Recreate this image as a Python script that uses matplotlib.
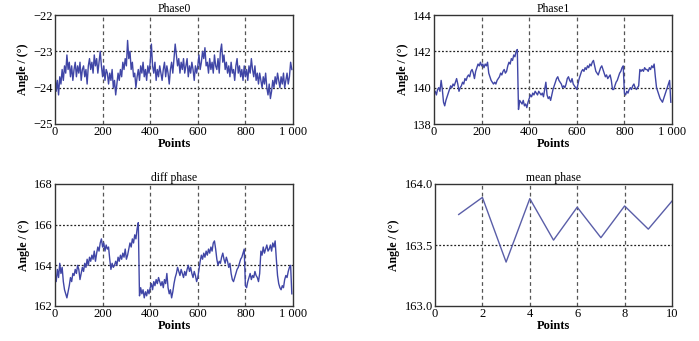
import numpy as np
import matplotlib
matplotlib.use("Agg")
import matplotlib.pyplot as plt
from matplotlib.ticker import FuncFormatter

plt.rcParams['font.family'] = ['Liberation Serif', 'DejaVu Serif']
plt.rcParams['axes.unicode_minus'] = True

points = np.arange(0, 1000, 5)

phase0 = [
    -23.6, -24.1, -23.8, -24.2, -23.7, -23.9, -23.5, -23.8, -23.4, -23.6,
    -23.1, -23.5, -23.3, -23.7, -23.4, -23.8, -23.5, -23.3, -23.7, -23.4,
    -23.6, -23.3, -23.8, -23.5, -23.4, -23.7, -23.5, -23.9, -23.4, -23.2,
    -23.5, -23.3, -23.6, -23.1, -23.4, -23.2, -23.6, -23.3, -23.0, -23.4,
    -23.7, -23.4, -23.8, -23.5, -23.6, -23.9, -23.6, -23.8, -23.5, -24.0,
    -23.8, -24.2, -23.9, -23.6, -23.8, -23.5, -23.7, -23.3, -23.5, -23.2,
    -23.4, -22.7, -23.2, -23.0, -23.5, -23.3, -23.7, -23.6, -24.0, -23.7,
    -23.5, -23.8, -23.4, -23.6, -23.3, -23.7, -23.5, -23.8, -23.4, -23.6,
    -23.3, -22.8, -23.4, -23.6, -23.3, -23.8, -23.5, -23.7, -23.4, -23.6,
    -23.8, -23.5, -23.3, -23.7, -23.4, -23.6, -23.9, -23.5, -23.3, -23.6,
    -23.2, -22.8, -23.1, -23.4, -23.2, -23.6, -23.3, -23.5, -23.2, -23.6,
    -23.4, -23.2, -23.7, -23.4, -23.6, -23.3, -23.5, -23.8, -23.4, -23.6,
    -23.4, -23.1, -23.5, -23.3, -23.0, -23.2, -22.9, -23.4, -23.3, -23.6,
    -23.2, -23.5, -23.3, -23.6, -23.1, -23.4, -23.5, -23.2, -23.6, -23.0,
    -22.8, -23.3, -23.1, -23.5, -23.3, -23.6, -23.4, -23.7, -23.3, -23.6,
    -23.5, -23.8, -23.4, -23.2, -23.6, -23.4, -23.7, -23.5, -23.8, -23.4,
    -23.7, -23.5, -23.8, -23.4, -23.6, -23.2, -23.5, -23.7, -23.4, -23.8,
    -23.6, -23.9, -23.6, -23.8, -24.0, -23.7, -23.9, -23.6, -24.0, -24.2,
    -23.9, -24.3, -24.1, -23.8, -24.0, -23.7, -23.9, -23.6, -23.8, -24.0,
    -23.7, -23.9, -23.6, -24.0, -23.8, -23.6, -23.9, -23.7, -23.3, -23.5,
]

phase1 = [
    139.7, 139.8, 139.6, 139.9, 140.0, 139.8, 140.4, 139.9, 139.2, 139.0,
    139.3, 139.5, 139.7, 139.9, 140.1, 140.0, 140.2, 140.1, 140.3, 140.5,
    140.2, 139.8, 140.0, 140.1, 140.3, 140.2, 140.5, 140.4, 140.6, 140.7,
    140.6, 140.9, 141.0, 140.8, 140.5, 140.9, 141.1, 141.3, 141.2, 141.4,
    141.2, 141.3, 141.1, 141.3, 141.2, 141.4, 140.8, 140.6, 140.4, 140.3,
    140.2, 140.3, 140.2, 140.4, 140.5, 140.6, 140.8, 140.7, 140.9, 141.0,
    140.8, 140.9, 141.2, 141.4, 141.3, 141.6, 141.5, 141.8, 141.7, 142.0,
    142.1, 138.8, 139.3, 139.2, 139.1, 139.3, 139.0, 139.1, 138.9, 139.2,
    139.4, 139.6, 139.5, 139.7, 139.6, 139.8, 139.7, 139.6, 139.8, 139.7,
    139.6, 139.7, 139.5, 139.9, 140.3, 139.6, 139.4, 139.5, 139.3, 139.6,
    139.9, 140.1, 140.3, 140.5, 140.6, 140.4, 140.3, 140.2, 140.0, 140.1,
    140.0, 140.2, 140.5, 140.6, 140.4, 140.3, 140.5, 140.2, 140.1, 140.0,
    139.9, 140.2, 140.5, 140.7, 140.9, 141.0, 140.9, 141.1, 141.0, 141.2,
    141.1, 141.3, 141.2, 141.4, 141.5, 141.2, 140.9, 140.8, 140.7, 140.9,
    141.1, 141.2, 141.0, 140.8, 140.6, 140.7, 140.5, 140.6, 140.7, 140.4,
    139.9, 139.9, 140.1, 140.3, 140.4, 140.6, 140.8, 140.9, 141.1, 141.2,
    139.7, 139.6, 139.8, 139.7, 139.9, 140.0, 139.9, 140.1, 140.2, 140.0,
    139.9, 140.0, 140.1, 141.0, 140.9, 141.0, 140.9, 141.1, 141.0, 141.0,
    140.9, 141.1, 141.0, 141.2, 141.1, 141.3, 140.6, 140.0, 139.8, 139.6,
    139.4, 139.3, 139.2, 139.4, 139.6, 139.8, 140.0, 140.2, 140.4, 139.2,
]

diff_phase = [
    163.6, 163.2, 163.8, 163.4, 164.1, 163.6, 163.9, 163.2, 162.8, 162.6,
    162.4, 162.7, 163.0, 163.4, 163.2, 163.6, 163.5, 163.8, 163.6, 164.0,
    163.8, 163.3, 163.6, 163.9, 163.7, 164.1, 163.9, 164.3, 164.0, 164.4,
    164.2, 164.5, 164.3, 164.7, 164.2, 164.6, 164.9, 164.7, 165.1, 165.3,
    164.9, 165.1, 164.7, 165.0, 164.8, 164.9, 164.3, 163.8, 164.1, 163.9,
    164.0, 164.2, 164.0, 164.4, 164.2, 164.5, 164.3, 164.6, 164.4, 164.8,
    164.3, 164.5, 164.8, 165.1, 164.9, 165.3, 165.1, 165.5, 165.3, 165.8,
    166.1, 162.5, 162.9, 162.6, 162.8, 162.4, 162.7, 162.5, 162.8, 162.6,
    162.9, 163.1, 162.8, 163.2, 163.0, 163.3, 163.1, 163.4, 163.2, 163.0,
    163.2, 162.9, 163.3, 163.1, 163.6, 162.9, 162.6, 162.8, 162.4, 162.7,
    163.1, 163.4, 163.6, 163.9, 163.7, 163.5, 163.8, 163.6, 163.4, 163.7,
    163.5, 163.8, 164.0, 163.7, 163.9, 163.6, 163.4, 163.7, 163.5, 163.2,
    163.4, 163.8, 164.2, 164.5, 164.3, 164.6, 164.4, 164.7, 164.5, 164.8,
    164.6, 164.9, 164.7, 165.1, 165.2, 164.8, 164.3, 164.0, 164.2, 164.1,
    164.4, 164.6, 164.3, 164.1, 164.4, 164.2, 163.9, 164.1, 163.6, 163.3,
    163.2, 163.4, 163.6, 163.8, 163.9, 164.1, 164.3, 164.4, 164.6, 164.8,
    163.0, 162.9, 163.2, 163.4, 163.6, 163.3, 163.5, 163.4, 163.7, 163.5,
    163.4, 163.2, 163.6, 164.7, 164.5, 164.9, 164.6, 164.8, 165.0, 164.7,
    164.8, 165.0, 164.7, 165.1, 164.9, 165.2, 164.3, 163.5, 163.1, 162.9,
    162.8, 163.0, 162.9, 163.3, 163.5, 163.4, 163.7, 163.9, 164.0, 162.6,
]

mean_x = [1, 2, 3, 4, 5, 6, 7, 8, 9, 10]
mean_phase = [163.75, 163.89, 163.36, 163.88, 163.54, 163.81, 163.56, 163.82, 163.63, 163.86]

line_color = '#4046a6'
W, H = 699, 341
fig = plt.figure(figsize=(W / 100, H / 100), dpi=100)


def rect(x0, y0, x1, y1):
    return [x0 / W, 1 - y1 / H, (x1 - x0) / W, (y1 - y0) / H]


def thousands(v, pos):
    v = int(round(v))
    if v >= 1000:
        return f"{v // 1000} {v % 1000:03d}"
    return str(v)


def style(ax, title, xt, yt, hgrid, vgrid, xfmt=None, yfmt=None):
    ax.set_title(title, fontsize=8.5, pad=2)
    ax.set_xticks(xt)
    ax.set_yticks(yt)
    if xfmt:
        ax.xaxis.set_major_formatter(FuncFormatter(xfmt))
    if yfmt:
        ax.yaxis.set_major_formatter(FuncFormatter(yfmt))
    ax.tick_params(length=0, labelsize=9, pad=1.5)
    for s in ax.spines.values():
        s.set_color('#333333')
        s.set_linewidth(1.0)
    for h in hgrid:
        ax.axhline(h, color='#222222', lw=0.9, ls=(0, (1.5, 1.5)), zorder=1)
    for v in vgrid:
        ax.axvline(v, color='#555555', lw=0.9, ls=(0, (3, 2.5)), zorder=1)
    ax.set_xlabel('Points', fontsize=9, fontweight='bold', labelpad=0)
    ax.set_ylabel('Angle / (°)', fontsize=8.5, fontweight='bold', labelpad=3)


def minus_fmt(v, pos):
    return f"{v:.0f}".replace('-', '\u2212')


ax1 = fig.add_axes(rect(55, 15, 293, 124))
ax1.plot(points, phase0, color=line_color, lw=1.0, zorder=2)
ax1.set_xlim(0, 1000)
ax1.set_ylim(-25, -22)
style(ax1, 'Phase0', [0, 200, 400, 600, 800, 1000], [-25, -24, -23, -22],
      [-24, -23], [200, 400, 600, 800], xfmt=thousands, yfmt=minus_fmt)

ax2 = fig.add_axes(rect(434, 15, 672, 124))
ax2.plot(points, phase1, color=line_color, lw=1.0, zorder=2)
ax2.set_xlim(0, 1000)
ax2.set_ylim(138, 144)
style(ax2, 'Phase1', [0, 200, 400, 600, 800, 1000], [138, 140, 142, 144],
      [140, 142], [200, 400, 600, 800], xfmt=thousands)

ax3 = fig.add_axes(rect(55, 184, 293, 306))
ax3.plot(points, diff_phase, color=line_color, lw=1.0, zorder=2)
ax3.set_xlim(0, 1000)
ax3.set_ylim(162, 168)
style(ax3, 'diff phase', [0, 200, 400, 600, 800, 1000], [162, 164, 166, 168],
      [164, 166], [200, 400, 600, 800], xfmt=thousands)

ax4 = fig.add_axes(rect(435, 184, 672, 306))
ax4.plot(mean_x, mean_phase, color='#5a5ea8', lw=1.0, zorder=2)
ax4.set_xlim(0, 10)
ax4.set_ylim(163.0, 164.0)
style(ax4, 'mean phase', [0, 2, 4, 6, 8, 10], [163.0, 163.5, 164.0],
      [163.5], [2, 4, 6, 8], yfmt=lambda v, p: f"{v:.1f}")

fig.savefig('out.png', dpi=100)
